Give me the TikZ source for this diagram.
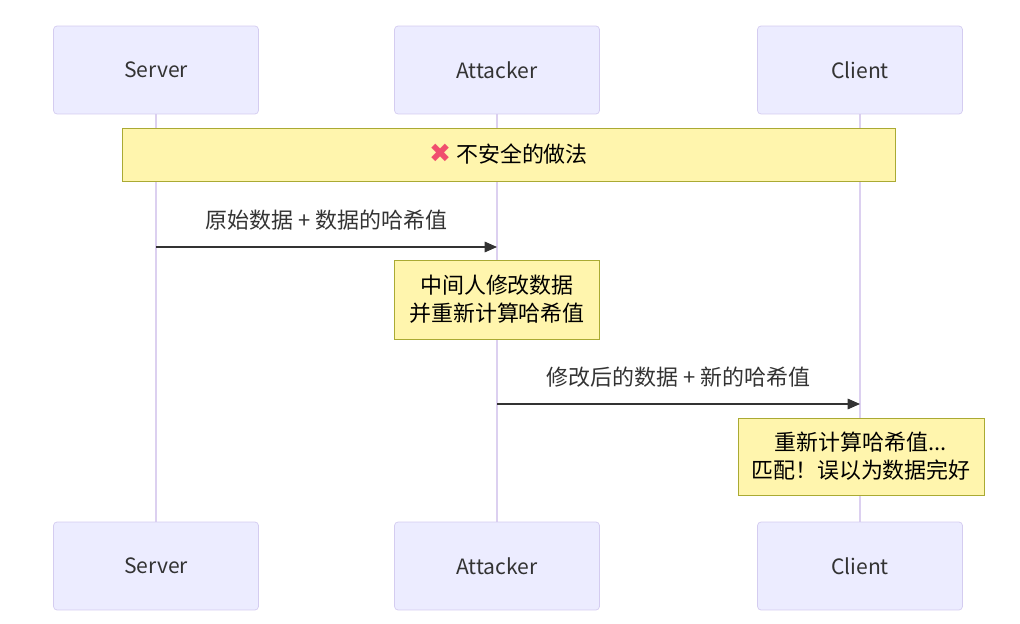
\documentclass[tikz,border=0pt]{standalone}
\usepackage{fontspec}
\setmainfont{Noto Sans CJK SC}
\newfontfamily\symfont{DejaVu Sans}
\usetikzlibrary{arrows.meta}
\definecolor{actfill}{HTML}{ECECFF}
\definecolor{actdraw}{HTML}{D4CCF0}
\definecolor{lifeline}{HTML}{DCD0F0}
\definecolor{notefill}{HTML}{FFF5AD}
\definecolor{notedraw}{HTML}{AAAA33}
\definecolor{txt}{HTML}{333333}
\definecolor{crossred}{HTML}{F04E6E}
\tikzset{
  actor/.style={draw=actdraw,fill=actfill,rounded corners=2pt,minimum width=4.1cm,minimum height=1.76cm,text=txt,font=\fontsize{12}{14}\selectfont},
  note/.style={draw=notedraw,fill=notefill,text=black,align=center,font=\fontsize{12.5}{16}\selectfont},
  msg/.style={draw=txt,line width=0.7pt,-{Triangle[length=7pt,width=6pt]}},
  lbl/.style={text=txt,font=\fontsize{12.5}{14}\selectfont}
}
\begin{document}
\begin{tikzpicture}[x=0.02cm,y=-0.02cm]
  \useasboundingbox (0,0) rectangle (1020,624);
  % lifelines
  \foreach \x in {156,497,860}
    \draw[lifeline,line width=1.5pt] (\x,114) -- (\x,522);
  % actors
  \node[actor] (srvT) at (156,70) {Server};
  \node[actor] (attT) at (497,70) {Attacker};
  \node[actor] (cliT) at (860,70) {Client};
  \node[actor] (srvB) at (156,566) {Server};
  \node[actor] (attB) at (497,566) {Attacker};
  \node[actor] (cliB) at (860,566) {Client};
  % notes
  \node[note,minimum width=15.46cm,minimum height=1.06cm] (warn) at (508.5,154.5)
    {{\symfont\fontsize{15}{16}\selectfont\color{crossred}\char"2716}\ 不安全的做法};
  \node[note,minimum width=4.1cm,minimum height=1.58cm] (mitm) at (497,299.5)
    {中间人修改数据\\并重新计算哈希值};
  \node[note,minimum width=4.92cm,minimum height=1.54cm] (check) at (861,456.5)
    {重新计算哈希值...\\匹配！误以为数据完好};
  % messages
  \coordinate (s1) at (156,247);
  \coordinate (a1) at (497,247);
  \coordinate (a2) at (497,404);
  \coordinate (c2) at (860,404);
  \draw[msg] (s1) -- node[lbl,above=6pt] {原始数据 + 数据的哈希值} (a1);
  \draw[msg] (a2) -- node[lbl,above=6pt] {修改后的数据 + 新的哈希值} (c2);
\end{tikzpicture}
\end{document}
